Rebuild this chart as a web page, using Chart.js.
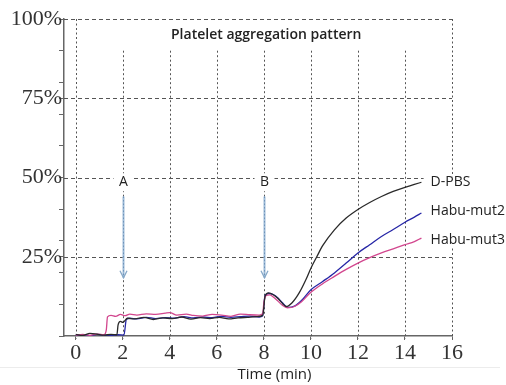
<!DOCTYPE html>
<html>
<head>
<meta charset="utf-8">
<script src="https://cdn.jsdelivr.net/npm/chart.js@4.4.0/dist/chart.umd.min.js"></script>
<style>
  html, body { margin: 0; padding: 0; background: #fff; }
</style>
</head>
<body>
<canvas id="myChart" width="506" height="385"></canvas>
<script>
// time axis ticks and y ticks
const xTicks = [0, 2, 4, 6, 8, 10, 12, 14, 16];
const yTicks = [0, 10, 20, 25, 30, 40, 50, 60, 70, 75, 80, 90, 100];
const yLabels = [25, 50, 75, 100];

// D-PBS (black)
const tDPBS = [0, 0.3, 0.6, 0.9, 1.2, 1.5, 1.75, 1.8, 1.9, 2.0, 2.2, 2.5, 2.9, 3.3, 3.7, 4.1, 4.5, 4.9, 5.3, 5.7, 6.1, 6.5, 6.9, 7.3, 7.7, 7.95, 8.05, 8.2, 8.4, 8.6, 8.8, 8.95, 9.2, 9.5, 9.8, 10, 10.25, 10.5, 11, 11.5, 12, 12.5, 13, 13.5, 14, 14.4, 14.7];
const dpbs = [0.5, 0.2, 0.8, 0.6, 0.3, 0.5, 0.4, 3.5, 4.6, 4.3, 5.6, 5.4, 5.9, 5.2, 5.7, 5.5, 6.0, 5.3, 5.8, 5.5, 5.9, 5.4, 5.7, 5.9, 6.1, 6.5, 12.5, 13.6, 13.0, 11.8, 10.2, 9.3, 10.5, 13.6, 18.0, 21.4, 25.0, 28.5, 33.5, 37.2, 39.9, 42.1, 44.0, 45.6, 46.9, 47.8, 48.5];

// Habu-mut2 (blue)
const tMut2 = [0, 0.3, 0.6, 0.9, 1.2, 1.5, 1.8, 2.05, 2.15, 2.3, 2.6, 3.0, 3.4, 3.8, 4.2, 4.6, 5.0, 5.4, 5.8, 6.2, 6.6, 7.0, 7.4, 7.8, 7.95, 8.05, 8.2, 8.4, 8.6, 8.8, 9.0, 9.3, 9.6, 10, 10.5, 11, 11.5, 12, 12.5, 13, 13.5, 14, 14.4, 14.7];
const mut2 = [0.2, 0.4, 0.1, 0.5, 0.3, 0.2, 0.4, 0.3, 5.2, 5.6, 5.4, 5.9, 5.5, 5.8, 5.6, 6.1, 5.7, 6.0, 5.8, 6.2, 5.9, 6.1, 6.3, 6.0, 6.4, 12.8, 13.4, 13.1, 12.0, 10.4, 9.0, 9.4, 11.2, 14.6, 17.2, 19.9, 23.0, 26.2, 28.8, 31.4, 33.6, 35.9, 37.5, 38.8];

// Habu-mut3 (pink)
const tMut3 = [0, 0.3, 0.6, 0.9, 1.2, 1.3, 1.35, 1.5, 1.7, 1.9, 2.1, 2.3, 2.6, 3.0, 3.4, 3.8, 4.0, 4.3, 4.7, 5.0, 5.4, 5.8, 6.2, 6.6, 7.0, 7.4, 7.8, 7.95, 8.0, 8.1, 8.25, 8.4, 8.6, 8.8, 9.0, 9.3, 9.6, 10, 10.5, 11, 11.5, 12, 12.5, 13, 13.5, 14, 14.4, 14.7];
const mut3 = [0.3, 0.5, 0.2, 0.6, 0.4, 2.0, 6.0, 6.5, 6.2, 6.8, 6.4, 6.9, 6.6, 7.0, 6.8, 7.2, 7.4, 6.6, 6.9, 6.5, 6.3, 6.8, 6.6, 6.2, 6.9, 6.7, 6.6, 7.0, 10.5, 12.8, 13.0, 12.3, 11.0, 9.6, 8.9, 9.3, 10.8, 13.8, 16.5, 18.8, 21.0, 23.0, 24.7, 26.2, 27.5, 28.8, 29.8, 30.9];

const seriesNames = ['D-PBS', 'Habu-mut2', 'Habu-mut3'];
const seriesColors = ['#2a2a2a', '#2626a6', '#d2468e'];

// arrows A and B
const arrowNames = ['A', 'B'];
const arrowAt = [2, 8];

const toPoints = (t, v) => t.map((x, i) => ({ x: x, y: v[i] }));

const overlay = {
  id: 'overlay',
  beforeDatasetsDraw(chart) {
    const c = chart.ctx;
    const xs = chart.scales.x, ys = chart.scales.y;
    c.save();
    c.strokeStyle = '#555';
    c.lineWidth = 1;
    // horizontal dashed grid
    c.setLineDash([4, 3]);
    yLabels.forEach(v => {
      const y = Math.round(ys.getPixelForValue(v)) + 0.5;
      c.beginPath();
      c.moveTo(chart.chartArea.left, y);
      c.lineTo(xs.getPixelForValue(16), y);
      c.stroke();
    });
    // vertical dotted grid
    c.setLineDash([2, 2.5]);
    xTicks.forEach((v, i) => {
      const x = Math.round(xs.getPixelForValue(v)) + 0.5;
      const top = (i === 0 || i === xTicks.length - 1) ? ys.getPixelForValue(100) : ys.getPixelForValue(90);
      c.beginPath();
      c.moveTo(x, top);
      c.lineTo(x, ys.getPixelForValue(0) + 3);
      c.stroke();
    });
    c.setLineDash([]);
    // title
    c.fillStyle = '#222';
    c.font = '600 14px "Open Sans"';
    c.textAlign = 'center';
    c.textBaseline = 'middle';
    c.fillText('Platelet aggregation pattern', xs.getPixelForValue(8.1), ys.getPixelForValue(94.8));
    // separator and axis title
    c.strokeStyle = '#ececec';
    c.beginPath();
    c.moveTo(0, 367.5);
    c.lineTo(500, 367.5);
    c.stroke();
    c.fillStyle = '#222';
    c.font = '15px "Open Sans"';
    c.fillText('Time (min)', xs.getPixelForValue(8.45), 375);
    c.restore();
  },
  afterDatasetsDraw(chart) {
    const c = chart.ctx;
    const xs = chart.scales.x, ys = chart.scales.y;
    c.save();
    c.textAlign = 'center';
    c.textBaseline = 'middle';
    c.font = '14px "Open Sans"';
    // arrows
    arrowAt.forEach((t, i) => {
      const x = Math.round(xs.getPixelForValue(t)) + 0.5;
      const yl = ys.getPixelForValue(48.5);
      c.fillStyle = '#fff';
      c.fillRect(x - 10, yl - 9, 20, 18);
      c.fillStyle = '#222';
      c.fillText(arrowNames[i], x, yl);
      const y0 = ys.getPixelForValue(44);
      const y1 = ys.getPixelForValue(18.4);
      c.strokeStyle = '#9dbbd8';
      c.lineWidth = 2;
      c.beginPath();
      c.moveTo(x, y0);
      c.lineTo(x, y1);
      c.stroke();
      c.strokeStyle = '#6f93b8';
      c.lineWidth = 1;
      c.setLineDash([1.5, 2]);
      c.beginPath();
      c.moveTo(x, y0);
      c.lineTo(x, y1);
      c.stroke();
      c.setLineDash([]);
      c.strokeStyle = '#86a8c8';
      c.lineWidth = 1.3;
      c.beginPath();
      c.moveTo(x - 3.5, y1 - 7);
      c.lineTo(x, y1);
      c.lineTo(x + 3.5, y1 - 7);
      c.stroke();
    });
    // series labels at the line ends
    const ends = [dpbs, mut2, mut3].map(s => ys.getPixelForValue(s[s.length - 1]));
    const lx = xs.getPixelForValue(14.75) + 1;
    c.fillStyle = '#fff';
    c.fillRect(lx, ends[0] - 6, chart.width - lx, ends[2] - ends[0] + 14);
    c.fillStyle = '#222';
    c.textAlign = 'left';
    seriesNames.forEach((n, i) => {
      const off = [0, -2, 2][i];
      c.fillText(n, lx + 7, ends[i] + off);
    });
    c.restore();
  }
};

const ctx = document.getElementById('myChart');

new Chart(ctx, {
  type: 'line',
  data: {
    datasets: [
      { label: seriesNames[0], data: toPoints(tDPBS, dpbs), borderColor: seriesColors[0], borderWidth: 1.3 },
      { label: seriesNames[2], data: toPoints(tMut3, mut3), borderColor: seriesColors[2], borderWidth: 1.3 },
      { label: seriesNames[1], data: toPoints(tMut2, mut2), borderColor: seriesColors[1], borderWidth: 1.3 }
    ]
  },
  options: {
    responsive: false,
    animation: false,
    layout: { padding: { top: 19, right: 54, bottom: 0, left: 0 } },
    elements: { point: { radius: 0 }, line: { cubicInterpolationMode: 'monotone' } },
    plugins: { legend: { display: false }, tooltip: { enabled: false } },
    scales: {
      x: {
        type: 'linear',
        min: -0.5,
        max: 16,
        afterBuildTicks: s => { s.ticks = xTicks.map(v => ({ value: v })); },
        afterFit: s => { s.height = 49; },
        ticks: { color: '#333', padding: 0, maxRotation: 0, autoSkip: false, font: { family: '"Liberation Serif"', size: 22 } },
        grid: { drawOnChartArea: false, tickLength: 4, tickColor: '#666' },
        border: { color: '#666', width: 1.5 }
      },
      y: {
        min: 0,
        max: 100,
        afterBuildTicks: s => { s.ticks = yTicks.map(v => ({ value: v })); },
        afterFit: s => { s.width = 64; },
        ticks: {
          color: '#333',
          padding: -3,
          autoSkip: false,
          font: { family: '"Liberation Serif"', size: 22 },
          callback: v => yLabels.includes(v) ? v + '%' : ''
        },
        grid: { drawOnChartArea: false, tickLength: 5, tickColor: '#666' },
        border: { color: '#666', width: 1.5 }
      }
    }
  },
  plugins: [overlay]
});
</script>
</body>
</html>
